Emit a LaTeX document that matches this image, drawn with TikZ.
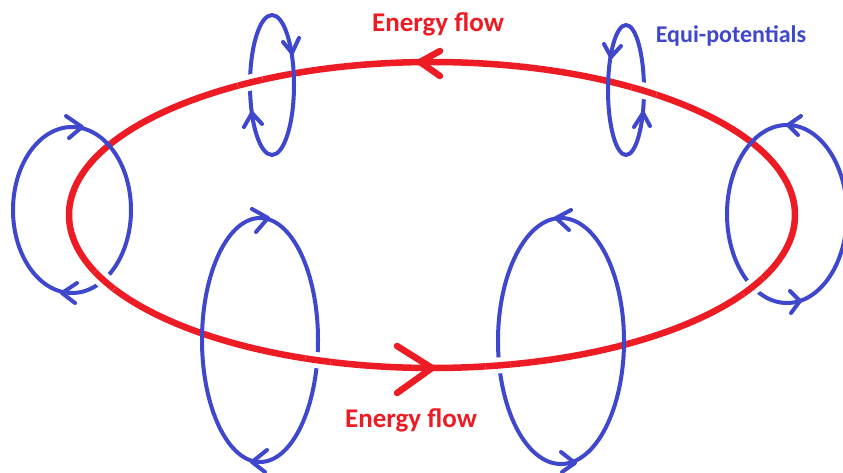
\documentclass[tikz,border=0pt]{standalone}
\usepackage{fontspec}
\setmainfont{Carlito}
\definecolor{pred}{HTML}{ED1C24}
\definecolor{pblue}{HTML}{3F48CC}
\tikzset{
  redline/.style={draw=pred, line width=6.5pt, line cap=round, line join=round},
  blueline/.style={draw=pblue, line width=4pt, line cap=round, line join=round},
  lbl/.style={font=\bfseries\fontsize{27}{32}\selectfont, anchor=base, inner sep=0pt},
  lbls/.style={font=\bfseries\fontsize{24}{29}\selectfont, anchor=base, inner sep=0pt}
}
\begin{document}
\begin{tikzpicture}[x=1pt,y=-1pt]
\useasboundingbox (0,0) rectangle (843,473);
\fill[white] (0,0) rectangle (843,473);
% red loop
\path[redline] (432,215) ellipse [x radius=363, y radius=153];
\path[redline] (440,51) -- (420,62) -- (440,76);
\path[redline] (397,346) -- (432,368) -- (397,393);
% blue loops
\path[blueline] (272,85) ellipse [x radius=22, y radius=70];
\path[blueline] (283,42) -- (292,53) -- (299,38);
\path[blueline] (244,127) -- (252,113) -- (262,124);
\path[blueline] (626,90) ellipse [x radius=18, y radius=65];
\path[blueline] (604,44) -- (611,57) -- (621,46);
\path[blueline] (634,127) -- (643,113) -- (650,126);
\path[blueline] (72,210) ellipse [x radius=59, y radius=83];
\path[blueline] (66,116) -- (82,127) -- (69,138);
\path[blueline] (77,283) -- (62,293) -- (75,303);
\path[blueline] (787,214) ellipse [x radius=60, y radius=89];
\path[blueline] (801,116) -- (788,125) -- (798,135);
\path[blueline] (790,291) -- (800,301) -- (791,313);
\path[blueline] (260,340) ellipse [x radius=58, y radius=122];
\path[blueline] (252,209) -- (268,218) -- (256,232);
\path[blueline] (267,450) -- (252,462) -- (265,472);
\path[blueline] (561,341) ellipse [x radius=63, y radius=123];
\path[blueline] (571,210) -- (556,218) -- (569,230);
\path[blueline] (561,452) -- (575,463) -- (562,472);
% red passing over blue
\foreach \p in {(250,81),(644,91),(104,281),(753,286),(318,360),(498,365)} {
  \begin{scope}
    \clip \p circle (13);
    \draw[white, line width=16pt] (432,215) ellipse [x radius=363, y radius=153];
    \path[redline] (432,215) ellipse [x radius=363, y radius=153];
  \end{scope}
}
% labels
\node[lbl, text=pred] (tflow) at (438,32) {Energy flow};
\node[lbl, text=pred] (bflow) at (411,427) {Energy flow};
\node[lbls, text=pblue] (equi) at (731,43) {Equi-potentials};
\end{tikzpicture}
\end{document}
